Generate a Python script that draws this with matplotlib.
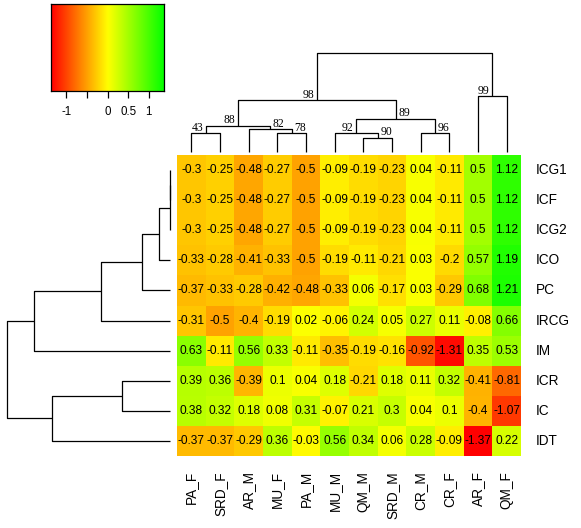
import numpy as np
import matplotlib
matplotlib.use("Agg")
import matplotlib.pyplot as plt
from matplotlib.colors import LinearSegmentedColormap, Normalize

plt.rcParams["font.family"] = ["Liberation Sans", "DejaVu Sans"]

W, H = 581, 528

ROWS = ["ICG1", "ICF", "ICG2", "ICO", "PC", "IRCG", "IM", "ICR", "IC", "IDT"]
COLS = ["PA_F", "SRD_F", "AR_M", "MU_F", "PA_M", "MU_M",
        "QM_M", "SRD_M", "CR_M", "CR_F", "AR_F", "QM_F"]

VALUES = np.array([
    [-0.3, -0.25, -0.48, -0.27, -0.5, -0.09, -0.19, -0.23, 0.04, -0.11, 0.5, 1.12],
    [-0.3, -0.25, -0.48, -0.27, -0.5, -0.09, -0.19, -0.23, 0.04, -0.11, 0.5, 1.12],
    [-0.3, -0.25, -0.48, -0.27, -0.5, -0.09, -0.19, -0.23, 0.04, -0.11, 0.5, 1.12],
    [-0.33, -0.28, -0.41, -0.33, -0.5, -0.19, -0.11, -0.21, 0.03, -0.2, 0.57, 1.19],
    [-0.37, -0.33, -0.28, -0.42, -0.48, -0.33, 0.06, -0.17, 0.03, -0.29, 0.68, 1.21],
    [-0.31, -0.5, -0.4, -0.19, 0.02, -0.06, 0.24, 0.05, 0.27, 0.11, -0.08, 0.66],
    [0.63, -0.11, 0.56, 0.33, -0.11, -0.35, -0.19, -0.16, -0.92, -1.31, 0.35, 0.53],
    [0.39, 0.36, -0.39, 0.1, 0.04, 0.18, -0.21, 0.18, 0.11, 0.32, -0.41, -0.81],
    [0.38, 0.32, 0.18, 0.08, 0.31, -0.07, 0.21, 0.3, 0.04, 0.1, -0.4, -1.07],
    [-0.37, -0.37, -0.29, 0.36, -0.03, 0.56, 0.34, 0.06, 0.28, -0.09, -1.37, 0.22],
])

# merges in scipy style: (left, right, height); new node ids start at n_leaves
COL_MERGES = [(0, 1, 18.4), (3, 4, 18.4), (2, 13, 22.7), (12, 14, 26.0),
              (6, 7, 14.0), (5, 16, 18.4), (8, 9, 18.4), (17, 18, 32.7),
              (15, 19, 51.7), (10, 11, 55.7), (20, 21, 98.4)]
COL_SUPPORT = ["43", "78", "82", "88", "90", "92", "96", "89", "98", "99", None]
SUPPORT_SIDE = [-1, 1, 1, -1, 1, -1, 1, 1, -1, -1, 0]

ROW_MERGES = [(0, 1, 0.0), (10, 2, 0.0), (11, 3, 10.7), (12, 4, 28.0),
              (13, 5, 69.0), (14, 6, 136.0), (7, 8, 47.7), (16, 9, 117.7),
              (15, 17, 163.3)]

KEY_TICKS = [-1, -0.5, 0, 0.5, 1]
KEY_LABELS = ["-1", "", "0", "0.5", "1"]

VMAX = 1.37
cmap = LinearSegmentedColormap.from_list("ryg", ["#ff0000", "#ffff00", "#00ff00"])
norm = Normalize(-VMAX, VMAX)


def box(x0, y0, x1, y1):
    """pixel box (top-left origin) -> figure fraction rect"""
    return [x0 / W, 1 - y1 / H, (x1 - x0) / W, (y1 - y0) / H]


def dendro_segments(merges, n):
    pos = {i: i + 0.5 for i in range(n)}
    hgt = {i: 0.0 for i in range(n)}
    segs, nodes = [], []
    for k, (a, b, h) in enumerate(merges):
        nid = n + k
        segs.append([(pos[a], hgt[a]), (pos[a], h), (pos[b], h), (pos[b], hgt[b])])
        pos[nid] = (pos[a] + pos[b]) / 2
        hgt[nid] = h
        nodes.append((pos[nid], h))
    return segs, nodes


fig = plt.figure(figsize=(W / 100, H / 100), dpi=100, facecolor="white")

# heatmap
hx0, hy0, hx1, hy1 = 177, 155, 521, 456
ax = fig.add_axes(box(hx0, hy0, hx1, hy1))
ax.pcolormesh(np.arange(len(COLS) + 1), np.arange(len(ROWS) + 1), VALUES,
              cmap=cmap, norm=norm)
ax.set_xlim(0, len(COLS)); ax.set_ylim(len(ROWS), 0)
ax.axis("off")
for i in range(len(ROWS)):
    for j in range(len(COLS)):
        ax.text(j + 0.5, i + 0.5, f"{VALUES[i, j]:g}", ha="center", va="center",
                fontsize=8.6, color="black")
for i, r in enumerate(ROWS):
    ax.text(len(COLS) + 15 / 28.7, i + 0.5, r, ha="left", va="center", fontsize=9.8)
for j, c in enumerate(COLS):
    ax.text(j + 0.5, len(ROWS) + 15 / 30.1, c, ha="center", va="top",
            rotation=90, fontsize=9.8)

# column dendrogram
axc = fig.add_axes(box(hx0, 40, hx1, 151.7))
segs, nodes = dendro_segments(COL_MERGES, len(COLS))
for s in segs:
    xs, ys = zip(*s)
    axc.plot(xs, ys, color="black", lw=0.9, solid_capstyle="butt", clip_on=False)
px = len(COLS) / (hx1 - hx0)
for (x, h), lab, side in zip(nodes, COL_SUPPORT, SUPPORT_SIDE):
    if lab is None:
        continue
    axc.text(x + side * 2.5 * px, h + 2.5, lab, ha="right" if side < 0 else "left",
             va="baseline", fontsize=8.4, family="Liberation Serif")
axc.set_xlim(0, len(COLS)); axc.set_ylim(0, 111.7)
axc.axis("off")

# row dendrogram
axr = fig.add_axes(box(0, hy0, 170, hy1))
segs, _ = dendro_segments(ROW_MERGES, len(ROWS))
for s in segs:
    ys, xs = zip(*s)
    axr.plot(xs, ys, color="black", lw=0.9, solid_capstyle="butt", clip_on=False)
axr.set_xlim(170, 0); axr.set_ylim(len(ROWS), 0)
axr.axis("off")

# colour key
axk = fig.add_axes(box(51, 4, 164, 91))
grad = np.linspace(-VMAX, VMAX, 256)[None, :]
axk.imshow(grad, cmap=cmap, norm=norm, aspect="auto",
           extent=[-VMAX, VMAX, 0, 1])
axk.set_xlim(-VMAX, VMAX); axk.set_ylim(0, 1)
axk.set_yticks([])
axk.set_xticks(KEY_TICKS)
axk.set_xticklabels(KEY_LABELS, fontsize=8.3)
axk.tick_params(axis="x", direction="out", length=5, width=0.9, pad=5.5)
for s in axk.spines.values():
    s.set_linewidth(0.9)

fig.savefig("out.png", dpi=100, facecolor="white")
